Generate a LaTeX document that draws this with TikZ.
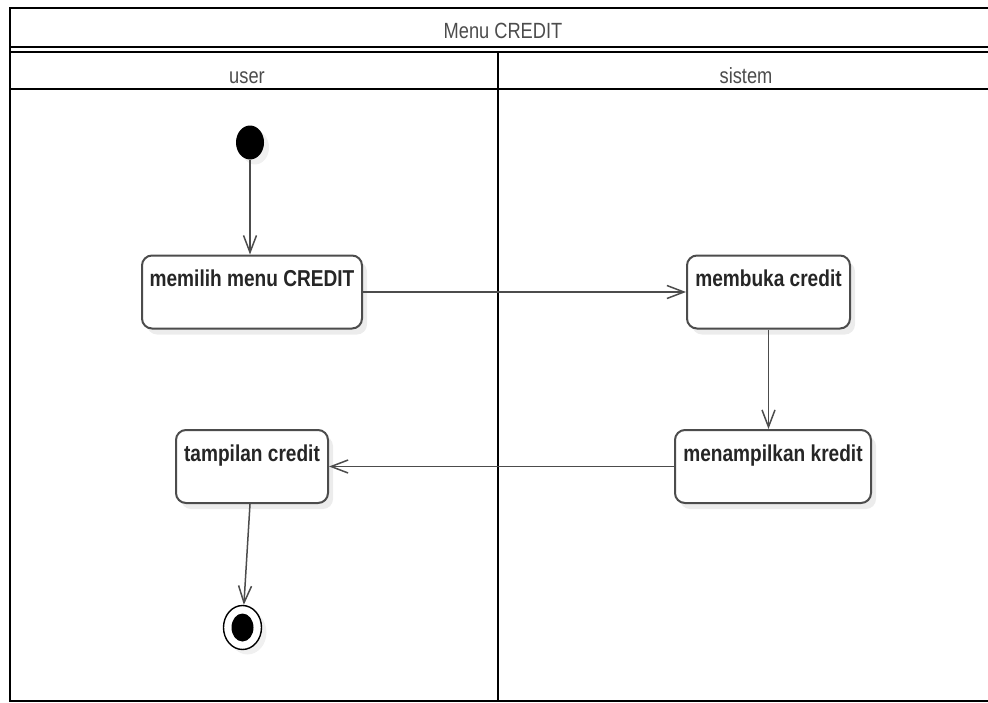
\documentclass[tikz,border=0pt]{standalone}
\usepackage{fontspec}
\setmainfont{Liberation Sans}[FakeStretch=0.83]
\usetikzlibrary{arrows.meta,shadows,shapes.geometric}

\begin{document}
\begin{tikzpicture}[x=1pt, y=-1pt,
  lane/.style={line width=2.8pt, black},
  lanetext/.style={text=black!70, font=\fontsize{22}{24}\selectfont, anchor=base},
  act/.style={draw=black!70, line width=2pt, rounded corners=10pt, fill=white,
    text=black!85, font=\bfseries\fontsize{23}{26}\selectfont,
    inner xsep=3pt, inner ysep=3pt, text height=28pt, text depth=39pt,
    drop shadow={shadow xshift=5pt, shadow yshift=-6pt, opacity=0.15}},
  flow/.style={draw=black!70, line width=1.5pt, -{Straight Barb[length=17pt,width=13pt]}}]
  \useasboundingbox (0,0) rectangle (988,702);

  % Swimlane frame
  \draw[lane] (995,8) -- (10,8) -- (10,701) -- (995,701);
  \draw[lane] (10,47) -- (995,47);
  \draw[lane] (10,52) -- (995,52);
  \draw[lane] (10,89) -- (995,89);
  \draw[lane] (498,52) -- (498,701);

  % Headers
  \node[lanetext] (title) at (503,38) {Menu CREDIT};
  \node[lanetext] (laneuser) at (247,83) {user};
  \node[lanetext] (lanesys) at (746,83) {sistem};

  % Activities
  \node[ellipse, fill=black, inner sep=0pt, minimum width=28pt, minimum height=34pt,
    drop shadow={shadow xshift=5pt, shadow yshift=-5pt, opacity=0.12}] (start) at (250,142.5) {};
  \node[act, minimum width=220pt] (pilih) at (252,292) {memilih menu CREDIT};
  \node[act, minimum width=163pt] (buka) at (768.5,292) {membuka credit};
  \node[act, minimum width=196pt] (tampil) at (773,466.5) {menampilkan kredit};
  \node[act, minimum width=152pt] (hasil) at (252,466.5) {tampilan credit};
  \node[ellipse, draw=black, line width=1.4pt, fill=white, inner sep=0pt,
    minimum width=38pt, minimum height=44pt,
    drop shadow={shadow xshift=5pt, shadow yshift=-5pt, opacity=0.12}] (final) at (242.5,627.5) {};
  \node[ellipse, fill=black, inner sep=0pt, minimum width=22pt, minimum height=28pt] (finaldot) at (final) {};

  % Flow
  \draw[flow] (start) -- (start |- pilih.north);
  \draw[flow] (pilih) -- (buka);
  \draw[flow] (buka) -- (buka |- tampil.north);
  \draw[flow] (tampil) -- (hasil);
  \draw[flow] ([xshift=-2pt]hasil.south) -- (final);
\end{tikzpicture}
\end{document}
